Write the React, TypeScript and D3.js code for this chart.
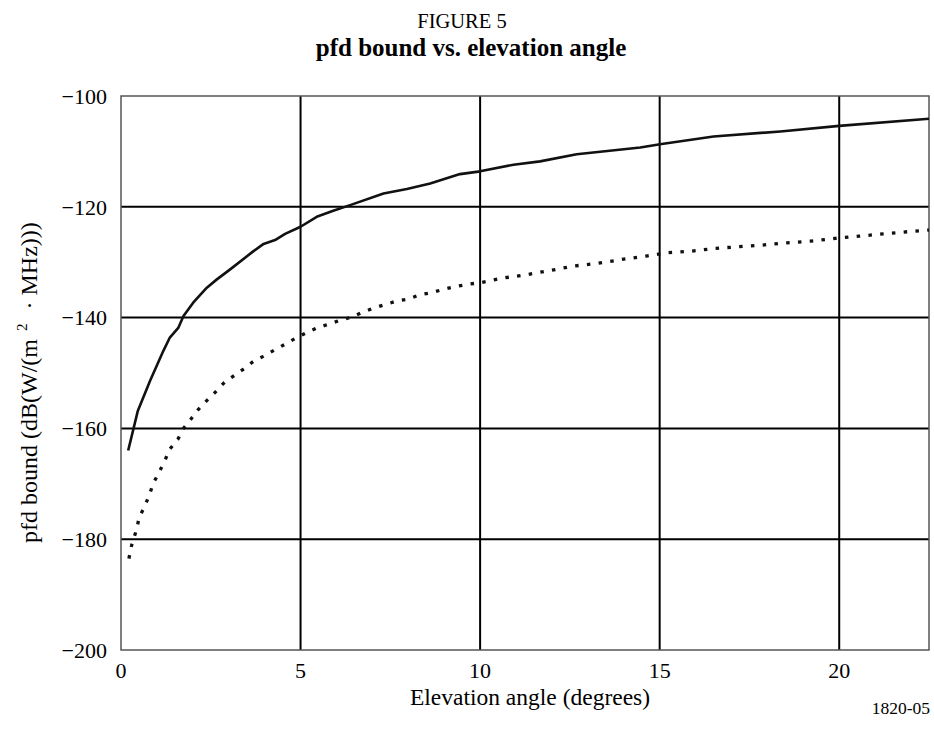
import React from 'react'
import * as d3 from 'd3'

// elevation angle (degrees) / pfd bound (dB(W/(m2 . MHz)))
const solidAngles = [0.2, 0.47, 0.81, 1.18, 1.36, 1.6, 1.74, 2.01, 2.39, 2.67, 3.04, 3.69, 3.97, 4.29, 4.57, 5.0, 5.45, 5.91, 6.38, 7.31, 7.96, 8.61, 9.44, 10.0, 10.93, 11.67, 12.69, 14.46, 15.01, 16.5, 18.36, 20.0, 22.5]
const solidPfd = [-164, -156.8, -151.4, -146.0, -143.6, -141.8, -139.7, -137.3, -134.6, -133.1, -131.3, -128.0, -126.7, -126.0, -124.9, -123.6, -121.8, -120.7, -119.7, -117.6, -116.8, -115.8, -114.1, -113.6, -112.4, -111.8, -110.5, -109.3, -108.7, -107.3, -106.4, -105.4, -104.1]

const dottedAngles = [0.22, 0.3, 0.44, 0.5, 0.67, 0.79, 0.9, 1.07, 1.23, 1.35, 1.58, 1.74, 1.95, 2.15, 2.4, 2.62, 2.88, 3.41, 3.69, 3.96, 4.26, 4.57, 4.87, 5.17, 5.45, 6.1, 6.43, 6.7, 7.03, 7.38, 7.68, 7.99, 8.31, 8.65, 8.98, 9.3, 9.65, 10.0, 10.6, 11.25, 11.95, 12.6, 13.28, 13.95, 14.62, 15.2, 15.9, 16.55, 17.22, 17.87, 18.54, 19.21, 19.89, 20.55, 21.22, 21.9, 22.5]
const dottedPfd = [-183.5, -181, -178.1, -176.2, -173.9, -172.0, -169.9, -167.8, -165.7, -163.8, -162.0, -160.0, -158.3, -156.6, -154.9, -153.5, -151.7, -149.3, -147.9, -147.0, -145.9, -144.8, -143.7, -142.7, -141.9, -140.5, -139.9, -139.1, -138.3, -137.6, -137.0, -136.7, -135.9, -135.5, -134.9, -134.4, -134.0, -133.7, -132.9, -132.3, -131.5, -130.7, -130.2, -129.5, -128.9, -128.3, -128.0, -127.5, -127.2, -126.9, -126.5, -126.2, -125.7, -125.3, -124.9, -124.5, -124.2]

const xTicks = [0, 5, 10, 15, 20]
const yTicks = [-100, -120, -140, -160, -180, -200]

const font = '"Liberation Serif", "Times New Roman", serif'

export default function App() {
  const x = d3.scaleLinear().domain([0, 22.5]).range([121, 929])
  const y = d3.scaleLinear().domain([-200, -100]).range([650, 96])

  const curve = d3.line<[number, number]>()
    .x((d) => x(d[0]))
    .y((d) => y(d[1]))

  const solidPath = curve(solidAngles.map((a, i) => [a, solidPfd[i]]))
  const dottedPath = curve(dottedAngles.map((a, i) => [a, dottedPfd[i]]))

  const [x0, x1] = x.range()
  const [y0, y1] = y.range()

  return (
    <svg width={934} height={729} style={{ position: 'absolute', left: 0, top: 0, background: '#fff' }} fontFamily={font}>
      <text x={462} y={28} textAnchor="middle" fontSize={20.5}>FIGURE 5</text>
      <text x={471} y={56} textAnchor="middle" fontSize={25} fontWeight="bold">pfd bound vs. elevation angle</text>

      {/* grid */}
      {xTicks.filter((t) => t > 0).map((t) => (
        <line key={'gx' + t} x1={x(t)} x2={x(t)} y1={y1} y2={y0} stroke="#000" strokeWidth={2} />
      ))}
      {yTicks.filter((t) => t > -200 && t < -100).map((t) => (
        <line key={'gy' + t} x1={x0} x2={x1} y1={y(t)} y2={y(t)} stroke="#000" strokeWidth={2} />
      ))}
      <rect x={x0} y={y1} width={x1 - x0} height={y0 - y1} fill="none" stroke="#555" strokeWidth={1.5} />

      {/* curves */}
      <path d={solidPath ?? ''} fill="none" stroke="#111" strokeWidth={2.6} strokeLinejoin="round" />
      <path d={dottedPath ?? ''} fill="none" stroke="#111" strokeWidth={3.3} strokeDasharray="3.5 8.3" />

      {/* tick labels */}
      {yTicks.map((t) => (
        <text key={'ly' + t} x={107} y={y(t)} dy="0.35em" textAnchor="end" fontSize={22}>
          {'\u2212' + Math.abs(t)}
        </text>
      ))}
      {xTicks.map((t) => (
        <text key={'lx' + t} x={x(t)} y={678} textAnchor="middle" fontSize={22}>{t}</text>
      ))}

      <text x={530} y={705} textAnchor="middle" fontSize={23.5}>Elevation angle (degrees)</text>
      <text x={930} y={714} textAnchor="end" fontSize={17.5}>1820-05</text>

      <text transform="translate(37,543) rotate(-90)" textAnchor="start" fontSize={24}>
        pfd bound (dB(W/(m<tspan dy="-10" dx="8" fontSize={15}>2</tspan><tspan dy="10" dx="14">{'\u00B7 MHz)))'}</tspan>
      </text>
    </svg>
  )
}
